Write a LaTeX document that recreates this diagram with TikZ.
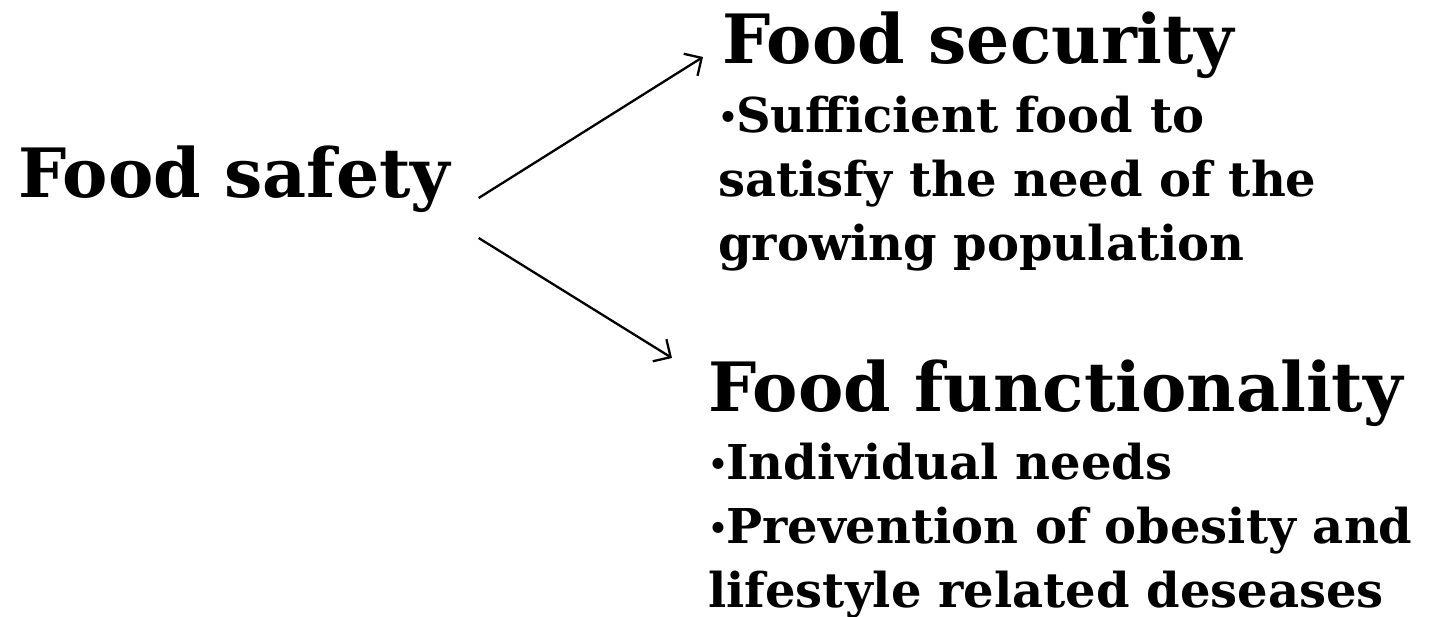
\documentclass[tikz,border=0pt]{standalone}
\usepackage{fontspec}
\setmainfont{DejaVu Serif}
\usetikzlibrary{arrows.meta}

\newcommand\bul{\raisebox{4pt}{\scalebox{0.65}{•}}\kern-2pt}

\begin{document}
\begin{tikzpicture}[x=1pt, y=-1pt,
    headline/.style={inner sep=0pt, font=\fontsize{68}{72}\selectfont\bfseries},
    bullets/.style={inner sep=0pt, align=left, font=\fontsize{48}{64}\selectfont\bfseries},
    arr/.style={-{Straight Barb[length=13pt, width=26pt, line width=2.3pt]}, line width=2.3pt}]

  \useasboundingbox (0, 0) rectangle (1433, 617);

  \node[headline, anchor=base west] (safety) at (18, 198) {Food safety};

  \node[headline, anchor=base west] (security) at (722, 64) {Food security};
  \node[bullets, anchor=north west] (securitytext) at (718, 96)
    {\bul Sufficient food to\\satisfy the need of the\\growing population};

  \node[headline, anchor=base west] (function) at (708, 412) {Food functionality};
  \node[bullets, anchor=north west] (functiontext) at (708, 443)
    {\bul Individual needs\\\bul Prevention of obesity and\\lifestyle related deseases};

  \draw[arr] ([xshift=28pt]safety.base east) -- ([shift={(-19pt, 7pt)}]security.base west); %% safety->security
  \draw[arr] ([shift={(28pt, -40pt)}]safety.base east) -- ([shift={(-36pt, 54pt)}]function.base west); %% safety->functionality

\end{tikzpicture}
\end{document}
